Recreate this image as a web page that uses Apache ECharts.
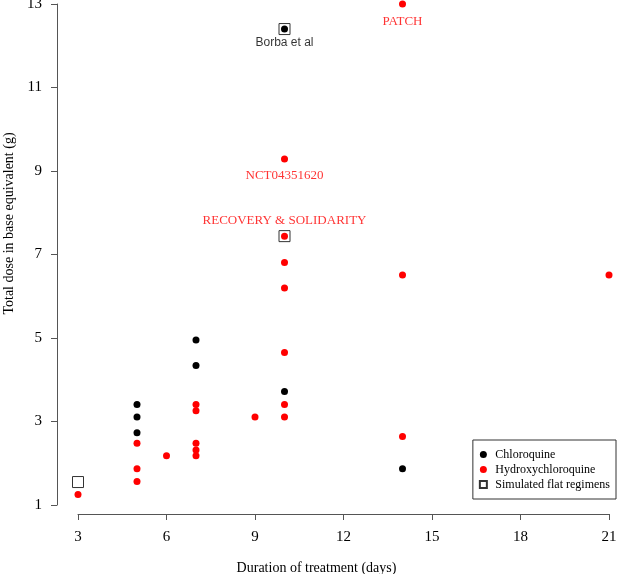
<!DOCTYPE html>
<html>
<head>
<meta charset="utf-8">
<script src="https://cdn.jsdelivr.net/npm/echarts@6/dist/echarts.min.js"></script>
<style>
  html, body { margin: 0; padding: 0; background: #fff; }
  #main { width: 617px; height: 574px; }
</style>
</head>
<body>
<div id="main"></div>
<script>
// duration (days), total dose (g)
var chloroquine = [
  [5, 3.41], [5, 3.11], [5, 2.73], [7, 4.95], [7, 4.34],
  [10, 3.72], [10, 12.4], [14, 1.87]
];
var hydroxychloroquine = [
  [3, 1.25], [5, 2.48], [5, 1.87], [5, 1.56], [6, 2.18],
  [7, 3.41], [7, 3.26], [7, 2.48], [7, 2.32], [7, 2.18],
  [9, 3.11], [10, 3.11], [10, 3.41], [10, 4.65], [10, 6.2],
  [10, 6.81], [10, 7.44], [10, 9.29], [14, 13.0], [14, 6.51],
  [14, 2.64], [21, 6.51]
];
var simulated = [[3, 1.55], [10, 7.44], [10, 12.4]];

var labelNames = ['PATCH', 'NCT04351620', 'RECOVERY & SOLIDARITY', 'Borba et al'];
var labelPoints = [[14, 13.0], [10, 9.29], [10, 7.44], [10, 12.4]];

var xTicks = [3, 21, 3];   // min, max, interval
var yTicks = [1, 13, 2];

var serif = 'Liberation Serif';
var red = '#ff0000';

// label look per annotation
var labelStyle = [
  { color: red, offset: [0, 18], font: serif },
  { color: red, offset: [0, 17], font: serif },
  { color: red, offset: [0, -16], font: serif },
  { color: '#000', offset: [0, 14], font: 'Liberation Sans' }
];

var labelData = labelPoints.map(function (p, i) {
  var s = labelStyle[i];
  return {
    value: p,
    label: {
      show: true,
      formatter: labelNames[i],
      position: 'inside',
      offset: s.offset,
      color: s.color,
      fontFamily: s.font,
      fontSize: s.font === serif ? 13 : 12
    }
  };
});

var axisColor = '#555';

var option = {
  animation: false,
  textStyle: { fontFamily: serif },
  grid: { left: 78, right: 8, top: 4, bottom: 69, outerBoundsMode: 'none', containLabel: false },
  xAxis: {
    type: 'value',
    min: xTicks[0], max: xTicks[1], interval: xTicks[2],
    offset: 9,
    splitLine: { show: false },
    axisLine: { show: true, lineStyle: { color: axisColor, width: 1 } },
    axisTick: { show: true, length: 6, lineStyle: { color: axisColor } },
    axisLabel: { color: '#000', fontSize: 15, margin: 16, fontFamily: serif },
    name: 'Duration of treatment (days)',
    nameLocation: 'middle',
    nameGap: 47,
    nameTextStyle: { color: '#000', fontSize: 14, fontFamily: serif, padding: [0, 54, 0, 0] }
  },
  yAxis: {
    type: 'value',
    min: yTicks[0], max: yTicks[1], interval: yTicks[2],
    offset: 21,
    splitLine: { show: false },
    axisLine: { show: true, lineStyle: { color: axisColor, width: 1 } },
    axisTick: { show: true, length: 6, lineStyle: { color: axisColor } },
    axisLabel: { color: '#000', fontSize: 15, margin: 15, fontFamily: serif },
    name: 'Total dose in base equivalent (g)',
    nameLocation: 'middle',
    nameGap: 37,
    nameTextStyle: { color: '#000', fontSize: 14, fontFamily: serif, padding: [0, 0, 0, 62] }
  },
  legend: {
    orient: 'vertical',
    right: 1,
    bottom: 75,
    padding: [7, 6, 7, 6],
    borderColor: '#333',
    borderWidth: 1,
    borderRadius: 0,
    itemWidth: 10,
    itemHeight: 7,
    itemGap: 0,
    textStyle: { fontFamily: serif, fontSize: 12, color: '#000', lineHeight: 15, padding: [0, 0, 0, 2] },
    data: [
      { name: 'Chloroquine', icon: 'circle' },
      { name: 'Hydroxychloroquine', icon: 'circle' },
      { name: 'Simulated flat regimens', icon: 'path://M0,0L10,0L10,10L0,10Z' }
    ]
  },
  series: [
    {
      name: 'Simulated flat regimens',
      type: 'scatter',
      symbol: 'rect',
      symbolSize: 11,
      clip: false,
      itemStyle: { color: 'transparent', borderColor: '#333', borderWidth: 1, opacity: 1 },
      data: simulated,
      z: 2
    },
    {
      name: 'Chloroquine',
      type: 'scatter',
      symbol: 'circle',
      symbolSize: 7,
      clip: false,
      itemStyle: { color: '#000', opacity: 1 },
      data: chloroquine,
      z: 3
    },
    {
      name: 'Hydroxychloroquine',
      type: 'scatter',
      symbol: 'circle',
      symbolSize: 7,
      clip: false,
      itemStyle: { color: red, opacity: 1 },
      data: hydroxychloroquine,
      z: 3
    },
    {
      name: 'labels',
      type: 'scatter',
      symbol: 'circle',
      symbolSize: 1,
      clip: false,
      silent: true,
      itemStyle: { color: 'rgba(0,0,0,0)' },
      data: labelData,
      z: 4
    }
  ]
};

var chart = echarts.init(document.getElementById('main'));
chart.setOption(option);
</script>
</body>
</html>
